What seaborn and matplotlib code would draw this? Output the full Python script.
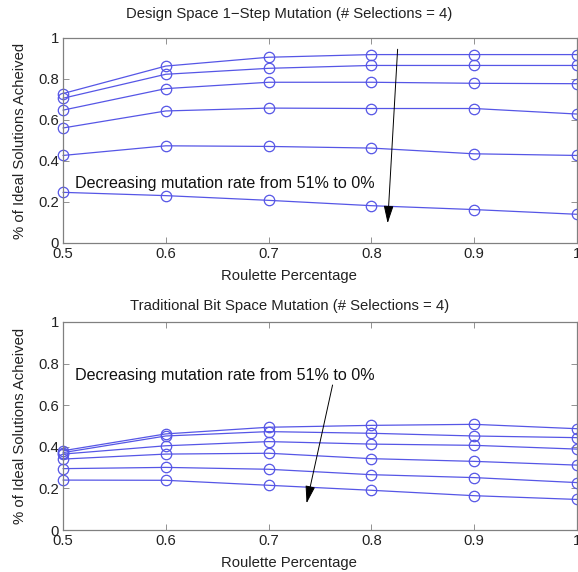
import matplotlib
matplotlib.use('Agg')
import matplotlib.pyplot as plt
import seaborn as sns
import pandas as pd

# ============================================================
# Data
# ============================================================
ROULETTE = [0.5, 0.6, 0.7, 0.8, 0.9, 1.0]
X_TICK_LABELS = ['0.5', '0.6', '0.7', '0.8', '0.9', '1']
Y_TICKS = [0, 0.2, 0.4, 0.6, 0.8, 1.0]
Y_TICK_LABELS = ['0', '0.2', '0.4', '0.6', '0.8', '1']

# Design space 1-step mutation, one list per mutation rate (high -> low curve)
DESIGN_S1 = [0.729, 0.863, 0.906, 0.919, 0.919, 0.919]
DESIGN_S2 = [0.706, 0.823, 0.852, 0.866, 0.866, 0.866]
DESIGN_S3 = [0.648, 0.753, 0.784, 0.784, 0.779, 0.777]
DESIGN_S4 = [0.561, 0.644, 0.658, 0.656, 0.656, 0.629]
DESIGN_S5 = [0.427, 0.474, 0.471, 0.463, 0.435, 0.427]
DESIGN_S6 = [0.247, 0.231, 0.208, 0.182, 0.163, 0.140]

# Traditional bit space mutation
BIT_S1 = [0.381, 0.462, 0.494, 0.503, 0.508, 0.487]
BIT_S2 = [0.372, 0.452, 0.473, 0.465, 0.452, 0.444]
BIT_S3 = [0.365, 0.405, 0.425, 0.413, 0.407, 0.389]
BIT_S4 = [0.341, 0.365, 0.369, 0.343, 0.330, 0.312]
BIT_S5 = [0.295, 0.301, 0.292, 0.266, 0.252, 0.228]
BIT_S6 = [0.240, 0.239, 0.215, 0.191, 0.165, 0.147]

TITLE_TOP = 'Design Space 1\u2212Step Mutation (# Selections = 4)'
TITLE_BOTTOM = 'Traditional Bit Space Mutation (# Selections = 4)'
X_LABEL = 'Roulette Percentage'
Y_LABEL = '% of Ideal Solutions Acheived'
NOTE = 'Decreasing mutation rate from 51% to 0%'

LINE_COLOR = '#5656e6'
AXIS_COLOR = '#808080'
TEXT_COLOR = '#222222'
FS = 10.7        # axis text size
NOTE_FS = 11.6   # annotation text size


def to_long(series_list):
    rows = []
    for i, vals in enumerate(series_list):
        for x, v in zip(ROULETTE, vals):
            rows.append({'roulette': x, 'value': v, 'series': f's{i + 1}'})
    return pd.DataFrame(rows)


df_design = to_long([DESIGN_S1, DESIGN_S2, DESIGN_S3, DESIGN_S4, DESIGN_S5, DESIGN_S6])
df_bit = to_long([BIT_S1, BIT_S2, BIT_S3, BIT_S4, BIT_S5, BIT_S6])

# ============================================================
# Style
# ============================================================
sns.set_theme(style='ticks')
plt.rcParams['font.family'] = ['Liberation Sans', 'DejaVu Sans']

fig = plt.figure(figsize=(5.78, 5.72), dpi=100)
ax_top = fig.add_axes([0.109, 0.5752, 0.889, 0.3584])
ax_bot = fig.add_axes([0.109, 0.0734, 0.889, 0.3637])


def draw_panel(ax, df, title, title_y, note_xy, arrow_start, arrow_end):
    palette = {s: LINE_COLOR for s in df['series'].unique()}
    sns.lineplot(data=df, x='roulette', y='value', hue='series', palette=palette,
                 marker='o', markersize=7.5, markerfacecolor='none',
                 markeredgecolor=LINE_COLOR, markeredgewidth=0.9,
                 linewidth=0.9, legend=False, errorbar=None, ax=ax, clip_on=False)
    ax.set_xlim(0.5, 1.0)
    ax.set_ylim(0, 1)
    ax.set_xticks(ROULETTE)
    ax.set_xticklabels(X_TICK_LABELS)
    ax.set_yticks(Y_TICKS)
    ax.set_yticklabels(Y_TICK_LABELS)
    ax.tick_params(direction='in', top=True, right=True, length=4, width=0.6,
                   color=AXIS_COLOR, labelsize=FS, labelcolor=TEXT_COLOR, pad=3)
    for sp in ax.spines.values():
        sp.set_color(AXIS_COLOR)
        sp.set_linewidth(0.9)
    ax.set_xlabel(X_LABEL, fontsize=FS, color=TEXT_COLOR)
    ax.set_ylabel(Y_LABEL, fontsize=FS, color=TEXT_COLOR)
    ax.xaxis.set_label_coords(0.44, -0.125)
    ax.yaxis.set_label_coords(-0.07, 0.5)
    ax.set_title(title, fontsize=FS, color=TEXT_COLOR, x=0.44, y=title_y, va='center', pad=0)
    ax.text(note_xy[0], note_xy[1], NOTE, fontsize=NOTE_FS, color='#111111', ha='left', va='center')
    ax.annotate('', xy=arrow_end, xytext=arrow_start,
                arrowprops=dict(arrowstyle='-|>,head_length=0.9,head_width=0.25',
                                color='black', lw=0.7, shrinkA=0, shrinkB=0))


draw_panel(ax_top, df_design, TITLE_TOP, 1.115, (0.512, 0.291),
           (0.8256, 0.945), (0.8159, 0.096))
draw_panel(ax_bot, df_bit, TITLE_BOTTOM, 1.077, (0.512, 0.745),
           (0.7623, 0.697), (0.737, 0.128))

fig.savefig('out.png', dpi=100)
plt.close(fig)
